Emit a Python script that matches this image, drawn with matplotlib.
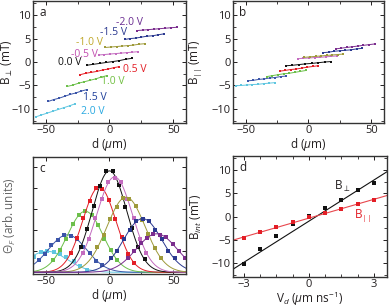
import matplotlib.pyplot as plt
import numpy as np
from matplotlib.ticker import MultipleLocator

plt.rcParams['font.family'] = ['Open Sans', 'DejaVu Sans']
plt.rcParams['mathtext.fontset'] = 'custom'
plt.rcParams['mathtext.rm'] = 'Open Sans'
plt.rcParams['mathtext.it'] = 'Open Sans:italic'
plt.rcParams['font.size'] = 8

# series order: 2.0, 1.5, 1.0, 0.5, 0.0, -0.5, -1.0, -1.5, -2.0 V
volt_labels = ["2.0 V", "1.5 V", "1.0 V", "0.5 V", "0.0 V", "-0.5 V", "-1.0 V", "-1.5 V", "-2.0 V"]
line_colors = ["#5fc6e0", "#3b55a8", "#6cbf4a", "#e31e26", "#111111", "#c36bbf", "#9e9a3a", "#2b3990", "#7b2d8e"]
text_colors = ["#29a9e1", "#1f3f9a", "#72c043", "#e31e26", "#111111", "#c24fb0", "#c0a82a", "#2b3990", "#6a2c91"]

# panel a/b: position d (um)
d_pos = [
    [-58, -53.5, -49, -44.5, -40, -35.5, -31, -27],
    [-48, -43.7, -39.4, -35.1, -30.8, -26.5, -22.2, -18],
    [-33, -28.6, -24.1, -19.7, -15.3, -10.9, -6.4, -2],
    [-23, -18.6, -14.2, -9.8, -5.4, -1, 3.4, 7.5],
    [-18, -12.9, -7.7, -2.6, 2.6, 7.7, 12.9, 18],
    [-8.4, -4, 0.4, 4.8, 9.2, 13.6, 18, 22.4],
    [-3.2, 1.2, 5.6, 10, 14.4, 18.8, 23.2, 27.6],
    [11.8, 16.2, 20.6, 25, 29.4, 33.8, 38.2, 42.6],
    [21.6, 26, 30.4, 34.8, 39.2, 43.6, 48, 52.6],
]
b_perp = [
    [-11.7, -11.3, -10.9, -10.5, -10.1, -9.7, -9.3, -8.9],
    [-8.4, -8.0, -7.7, -7.3, -6.9, -6.6, -6.2, -5.9],
    [-5.2, -4.9, -4.5, -4.2, -3.9, -3.6, -3.2, -2.9],
    [-2.7, -2.4, -2.2, -2.0, -1.7, -1.5, -1.2, -1.0],
    [-0.7, -0.5, -0.3, -0.1, 0.1, 0.3, 0.6, 0.8],
    [1.5, 1.6, 1.7, 1.8, 1.9, 2.0, 2.1, 2.2],
    [3.1, 3.2, 3.3, 3.4, 3.5, 3.6, 3.8, 3.9],
    [4.8, 5.0, 5.1, 5.3, 5.5, 5.6, 5.8, 6.0],
    [6.7, 6.8, 6.9, 7.0, 7.1, 7.2, 7.3, 7.4],
]
b_par = [
    [-5.05, -5.0, -4.9, -4.8, -4.75, -4.6, -4.5, -4.4],
    [-4.0, -3.9, -3.7, -3.6, -3.4, -3.3, -3.1, -3.0],
    [-3.1, -2.9, -2.7, -2.5, -2.4, -2.2, -2.0, -1.8],
    [-1.95, -1.8, -1.6, -1.5, -1.3, -1.1, -0.95, -0.8],
    [-0.8, -0.7, -0.55, -0.4, -0.3, -0.15, 0.0, 0.1],
    [0.7, 0.8, 0.85, 0.95, 1.0, 1.1, 1.2, 1.3],
    [1.0, 1.1, 1.2, 1.3, 1.4, 1.5, 1.6, 1.7],
    [2.0, 2.1, 2.3, 2.4, 2.5, 2.6, 2.8, 2.9],
    [2.8, 2.95, 3.1, 3.25, 3.4, 3.55, 3.7, 3.85],
]
label_x = [-13, -11.8, 2.4, 19.7, -31, -19.5, -15.5, 2.9, 15.8]
label_y = [-10.5, -7.5, -4.1, -1.5, -0.2, 1.7, 4.2, 6.25, 8.4]

# panel c: Faraday rotation profiles (dots) and gaussian fits
c_d = [
    [-59.5, -54, -49, -43.8, -38.5, -34, -28, -22.8, -17.5],
    [-55.5, -50.5, -45.5, -40.5, -35.5, -30.5, -25.5, -20.5, -15.5, -10.5, -5.5],
    [-44, -39, -34, -29, -24, -19, -14, -9, -4, 1, 6],
    [-30.5, -25.5, -20.5, -15.5, -10.5, -5.5, -0.5, 4.5, 9.5, 14.5, 19.5],
    [-22.5, -17.5, -12.5, -7.5, -2.5, 2.5, 7.5, 12.5, 17.5, 22.5, 27.5],
    [-21, -16, -11, -6, -1, 4, 9, 14, 19, 24, 29],
    [-9.5, -4.5, 0.5, 5.5, 10.5, 15.5, 20.5, 25.5, 30.5, 35.5, 40.5],
    [1, 6, 11, 16, 21, 26, 31, 36, 41, 46, 51],
    [14.5, 19.5, 24.5, 29.5, 34.5, 39.5, 44.5, 49.5, 54.5, 59.5],
]
c_theta = [
    [0.73, 0.96, 0.99, 0.96, 0.88, 0.73, 0.52, 0.28, 0.13],
    [0.60, 0.88, 1.28, 1.55, 1.78, 1.74, 1.59, 1.22, 0.92, 0.56, 0.35],
    [0.57, 1.07, 1.60, 2.28, 2.70, 2.92, 2.70, 2.27, 1.60, 1.06, 0.58],
    [0.93, 1.62, 2.58, 3.40, 4.00, 3.96, 3.45, 2.52, 1.66, 0.89, 0.45],
    [1.22, 2.05, 3.16, 4.10, 4.82, 4.80, 4.15, 3.10, 2.10, 1.18, 0.62],
    [0.94, 1.60, 2.57, 3.48, 4.27, 4.50, 4.27, 3.49, 2.58, 1.60, 0.94],
    [1.18, 1.78, 2.55, 3.12, 3.54, 3.50, 3.17, 2.50, 1.83, 1.14, 0.68],
    [0.66, 1.03, 1.57, 2.02, 2.43, 2.53, 2.43, 2.02, 1.57, 1.03, 0.66],
    [0.70, 0.99, 1.37, 1.62, 1.83, 1.79, 1.66, 1.33, 1.03, 0.66],
]
fit_center = [-49, -33, -19, -8, 0, 4, 13, 26, 37]
fit_amp = [1.0, 1.78, 2.9, 4.05, 4.82, 4.53, 3.57, 2.55, 1.83]
fit_sigma = [16, 15, 14, 13, 13.5, 14, 15, 15, 16]

# panel d: internal field vs drift velocity
vd = [-3, -2.25, -1.5, -0.75, 0, 0.75, 1.5, 2.25, 3]
bint_perp = [-10.1, -7.0, -4.1, -1.7, 0.2, 1.9, 3.6, 5.6, 7.3]
bint_par = [-4.63, -3.4, -2.3, -1.2, -0.1, 0.8, 1.66, 2.6, 3.6]
fit_slope = [2.95, 1.35]
fit_icpt = [-1.0, -0.35]

txt = "#231f20"
fs = 8
fl = 8.5


def style_axes(ax):
    ax.tick_params(which="both", direction="in", top=True, right=True, colors=txt, labelsize=fs, pad=1.5)
    ax.tick_params(which="major", length=3, width=0.7)
    ax.tick_params(which="minor", length=2, width=0.6)
    for s in ax.spines.values():
        s.set_linewidth(1.0)
        s.set_color("#333333")


fig = plt.figure(figsize=(3.9, 3.08), dpi=100)
ax_a = fig.add_axes([0.0846, 0.6006, 0.3923, 0.3961])
ax_b = fig.add_axes([0.5974, 0.6006, 0.3872, 0.3961])
ax_c = fig.add_axes([0.0846, 0.1104, 0.3923, 0.3799])
ax_d = fig.add_axes([0.5974, 0.1006, 0.3949, 0.3929])

for i in range(9):
    ax_a.plot(d_pos[i], b_perp[i], "-s", color=line_colors[i], lw=0.7, ms=2.0, mew=0)
    ax_a.text(label_x[i], label_y[i], volt_labels[i], color=text_colors[i], fontsize=7.5,
              ha="center", va="center")
    ax_b.plot(d_pos[i], b_par[i], "-s", color=line_colors[i], lw=0.7, ms=2.0, mew=0)

for ax, lab, yl, ylx in [(ax_a, "a", r"B$_\perp$ (mT)", -0.115), (ax_b, "b", r"B$_{||}$ (mT)", -0.19)]:
    ax.set_xlim(-60, 60)
    ax.set_ylim(-13, 13)
    ax.set_xticks([-50, 0, 50])
    ax.xaxis.set_minor_locator(MultipleLocator(25))
    ax.set_yticks([-10, -5, 0, 5, 10])
    ax.yaxis.set_minor_locator(MultipleLocator(2.5))
    ax.set_xlabel(r"d ($\mathit{\mu}$m)", fontsize=fl, color=txt, labelpad=0)
    ax.set_ylabel(yl, fontsize=fl, color=txt)
    ax.yaxis.set_label_coords(ylx, 0.5)
    ax.text(0.04, 0.96, lab, transform=ax.transAxes, fontsize=fl, color=txt, va="top")
    style_axes(ax)

xx = np.linspace(-60, 60, 300)
for i in range(9):
    yy = fit_amp[i] * np.exp(-(xx - fit_center[i]) ** 2 / (2 * fit_sigma[i] ** 2))
    ax_c.plot(xx, yy, color=line_colors[i], lw=0.7)
    ax_c.plot(c_d[i], c_theta[i], "s", color=line_colors[i], ms=2.3, mew=0)
ax_c.set_xlim(-60, 60)
ax_c.set_ylim(-0.08, 5.48)
ax_c.set_xticks([-50, 0, 50])
ax_c.xaxis.set_minor_locator(MultipleLocator(25))
ax_c.set_yticks([0, 1, 2, 3, 4, 5])
ax_c.set_yticklabels([])
ax_c.set_xlabel(r"d ($\mathit{\mu}$m)", fontsize=fl, color=txt, labelpad=0)
ax_c.set_ylabel(r"$\mathit{\Theta}_F$ (arb. units)", fontsize=fl, color="#666666")
ax_c.yaxis.set_label_coords(-0.1, 0.5)
ax_c.text(0.04, 0.96, "c", transform=ax_c.transAxes, fontsize=fl, color=txt, va="top")
style_axes(ax_c)

vv = np.array([-3.5, 3.6])
ax_d.plot(vv, fit_slope[0] * vv + fit_icpt[0], color="#111111", lw=0.8)
ax_d.plot(vv, fit_slope[1] * vv + fit_icpt[1], color="#e8474d", lw=0.8)
ax_d.plot(vd, bint_perp, "s", color="#111111", ms=3.0, mew=0)
ax_d.plot(vd, bint_par, "s", color="#e31e26", ms=2.4, mew=0)
ax_d.text(1.55, 6.4, r"B$_\perp$", color=txt, fontsize=fl, ha="center", va="center")
ax_d.text(2.45, 0.3, r"B$_{||}$", color="#e31e26", fontsize=fl, ha="center", va="center")
ax_d.set_xlim(-3.5, 3.6)
ax_d.set_ylim(-13, 13)
ax_d.set_xticks([-3, 0, 3])
ax_d.xaxis.set_minor_locator(MultipleLocator(0.75))
ax_d.set_yticks([-10, -5, 0, 5, 10])
ax_d.yaxis.set_minor_locator(MultipleLocator(2.5))
ax_d.set_xlabel(r"V$_d$ ($\mathit{\mu}$m ns$^{-1}$)", fontsize=fl, color=txt, labelpad=0)
ax_d.set_ylabel(r"B$_{int}$ (mT)", fontsize=fl, color=txt)
ax_d.yaxis.set_label_coords(-0.19, 0.5)
ax_d.text(0.04, 0.96, "d", transform=ax_d.transAxes, fontsize=fl, color=txt, va="top")
style_axes(ax_d)

fig.savefig("out.png", dpi=100)
